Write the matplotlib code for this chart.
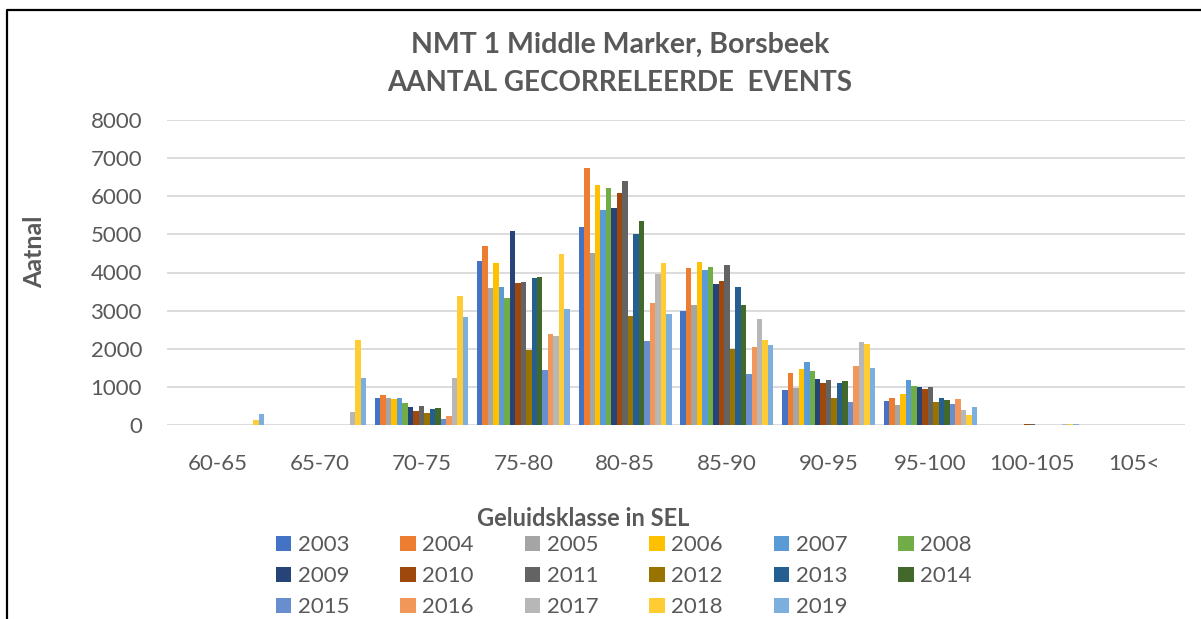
import matplotlib
matplotlib.use("Agg")
import matplotlib.pyplot as plt
from matplotlib.lines import Line2D
import numpy as np

plt.rcParams['font.family'] = ['Lato', 'DejaVu Sans']

categories = ["60-65", "65-70", "70-75", "75-80", "80-85", "85-90", "90-95", "95-100", "100-105", "105<"]
years = [str(y) for y in range(2003, 2020)]

v2003 = [0, 0, 700, 4300, 5200, 2980, 920, 620, 0, 0]
v2004 = [0, 0, 800, 4700, 6750, 4110, 1360, 715, 0, 0]
v2005 = [0, 0, 700, 3600, 4520, 3160, 980, 520, 0, 0]
v2006 = [0, 0, 670, 4260, 6300, 4270, 1460, 810, 0, 0]
v2007 = [0, 0, 710, 3610, 5630, 4070, 1665, 1170, 0, 0]
v2008 = [0, 0, 570, 3340, 6220, 4140, 1420, 1020, 0, 0]
v2009 = [0, 0, 460, 5100, 5690, 3690, 1200, 995, 0, 0]
v2010 = [0, 0, 375, 3715, 6090, 3790, 1095, 945, 15, 0]
v2011 = [0, 0, 490, 3750, 6390, 4190, 1180, 985, 15, 0]
v2012 = [0, 0, 315, 1970, 2850, 2000, 715, 600, 0, 0]
v2013 = [0, 0, 430, 3845, 5020, 3620, 1095, 705, 0, 0]
v2014 = [0, 0, 435, 3890, 5350, 3150, 1155, 650, 0, 0]
v2015 = [0, 0, 150, 1450, 2210, 1340, 615, 555, 0, 0]
v2016 = [0, 0, 235, 2390, 3190, 2045, 1535, 670, 0, 0]
v2017 = [0, 350, 1240, 2330, 3950, 2780, 2175, 390, 15, 0]
v2018 = [130, 2240, 3395, 4480, 4245, 2240, 2130, 255, 15, 0]
v2019 = [280, 1220, 2835, 3045, 2920, 2090, 1505, 485, 15, 0]

series = [v2003, v2004, v2005, v2006, v2007, v2008, v2009, v2010, v2011,
          v2012, v2013, v2014, v2015, v2016, v2017, v2018, v2019]

colors = ["#4472C4", "#ED7D31", "#A5A5A5", "#FFC000", "#5B9BD5", "#70AD47",
          "#264478", "#9E480E", "#636363", "#997300", "#255E91", "#43682B",
          "#698ED0", "#F1975A", "#B7B7B7", "#FFCD33", "#7CAFDD"]

W, H = 1201, 619
fig = plt.figure(figsize=(W / 100, H / 100), dpi=100)
ax = fig.add_axes([167 / W, 1 - 425 / H, (1185 - 167) / W, (425 - 120) / H])

n = len(series)
group_w = 0.914
bw = group_w / n
x = np.arange(len(categories))
handles = []
for i, (vals, c, yr) in enumerate(zip(series, colors, years)):
    off = -group_w / 2 + bw * (i + 0.5)
    b = ax.bar(x + off, vals, width=bw, color=c, label=yr, zorder=3, linewidth=0)
    handles.append(b)

ax.set_xlim(-0.5, len(categories) - 0.5)
ax.set_ylim(0, 8000)
ax.set_yticks(np.arange(0, 8001, 1000))
ax.yaxis.grid(True, color="#D9D9D9", linewidth=1.3, zorder=0)
ax.set_axisbelow(True)
for s in ax.spines.values():
    s.set_visible(False)
ax.set_xticks(x)
ax.set_xticklabels(categories)
ax.tick_params(axis='both', length=0, labelsize=16, labelcolor="#595959")
ax.tick_params(axis='y', pad=18)
ax.tick_params(axis='x', pad=21)

fig.text(620 / W, 1 - 45 / H, "NMT 1 Middle Marker, Borsbeek", ha='center', va='center',
         fontsize=20.5, fontweight='bold', color="#595959")
fig.text(620 / W, 1 - 83 / H, "AANTAL GECORRELEERDE  EVENTS", ha='center', va='center',
         fontsize=20, fontweight='bold', color="#595959")
fig.text(35 / W, 1 - 252 / H, "Aatnal", rotation=90, ha='center', va='center',
         fontsize=18, fontweight='bold', color="#595959")
fig.text(583 / W, 1 - 519 / H, "Geluidsklasse in SEL", ha='center', va='center',
         fontsize=17, fontweight='bold', color="#595959")

# legend: row-major order as in reference, mapped to matplotlib column-major fill
ncol = 6
order = []
for col in range(ncol):
    for row in range(3):
        k = row * ncol + col
        if k < n:
            order.append(k)
leg = fig.legend([handles[k] for k in order], [years[k] for k in order],
                 ncol=ncol, loc='upper left', bbox_to_anchor=(276 / W, 1 - 535 / H),
                 frameon=False, fontsize=16, handlelength=0.68, handleheight=0.68,
                 handletextpad=0.3, columnspacing=2.3, labelspacing=0.5,
                 borderpad=0, borderaxespad=0, labelcolor="#595959")

# outer frame (left and top lines)
fig.add_artist(Line2D([6.5 / W, 6.5 / W, 1.0], [0.0, 1 - 9.5 / H, 1 - 9.5 / H],
                      transform=fig.transFigure, color="black", linewidth=1.6))

fig.savefig("out.png", dpi=100)
